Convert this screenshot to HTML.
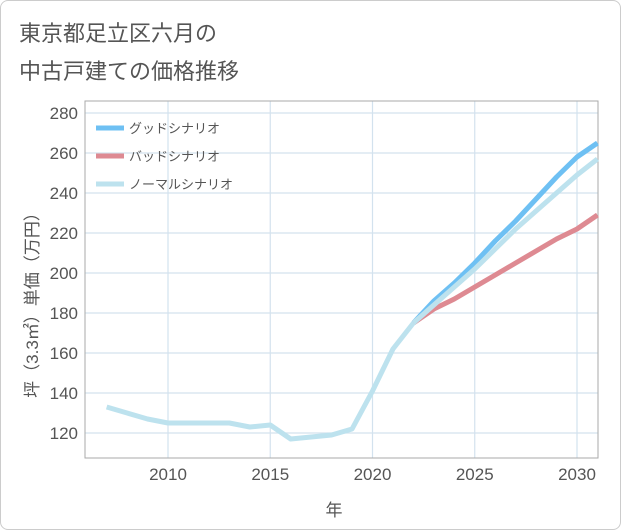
<!DOCTYPE html>
<html><head><meta charset="utf-8"><style>
body{margin:0;background:#fff;font-family:"Liberation Sans","Noto Sans CJK JP",sans-serif;}
#wrap{position:relative;width:619px;height:528px;border:1px solid #ccc;border-radius:8px;overflow:hidden;}
</style></head><body>
<div id="wrap">
<svg id="chart" width="621" height="530"></svg>
</div>
<script>
const years=[2007,2008,2009,2010,2011,2012,2013,2014,2015,2016,2017,2018,2019,2020,2021,2022];
const history=[133,130,127,125,125,125,125,123,124,117,118,119,122,141,162,175];
const fYears=[2022,2023,2024,2025,2026,2027,2028,2029,2030,2031];
const good=[175,186,195,205,216,226,237,248,258,265];
const bad=[175,182,187,193,199,205,211,217,222,229];
const normal=[175,184,193,202,212,222,231,240,249,257];
const xTicks=[2010,2015,2020,2025,2030];
const yTicks=[120,140,160,180,200,220,240,260,280];
const L=84,R=597,T=100,B=457;
const x=v=>167+(v-2010)*20.45;
const y=v=>432-(v-120)*2;
const NS="http://www.w3.org/2000/svg";
const svg=document.getElementById('chart');
function el(t,a,txt){const e=document.createElementNS(NS,t);for(const k in a)e.setAttribute(k,a[k]);if(txt!=null)e.textContent=txt;svg.appendChild(e);return e;}
let t=el('text',{x:18,y:40,'font-size':22,fill:'#555'},'東京都足立区六月の');


t=el('text',{x:18,y:78,'font-size':22,fill:'#555'},'中古戸建ての価格推移');


for(const v of yTicks){
 const g=el('line',{x1:L,x2:R,y1:y(v),y2:y(v),stroke:'#d3e2ee','stroke-width':1.2});
 
 
 const l=el('text',{x:L-7,y:y(v)+6,'font-size':17,fill:'#555','text-anchor':'end'},v);
 
 
}
for(const v of xTicks){
 const g=el('line',{x1:x(v),x2:x(v),y1:T,y2:B,stroke:'#d3e2ee','stroke-width':1.2});
 
 
 const l=el('text',{x:x(v),y:B+22,'font-size':17,fill:'#555','text-anchor':'middle'},v);
 
 
}
let ax=el('rect',{x:L,y:T,width:R-L,height:B-T,fill:'none',stroke:'#aaa','stroke-width':1});


function line(xs,vs,c,n){
 const p=el('polyline',{points:xs.map((v,i)=>x(v)+','+y(vs[i])).join(' '),fill:'none',stroke:c,'stroke-width':5,'stroke-linejoin':'round'});
 
 
}
line(fYears,good,'#6ec0f3','series-good');
line(fYears,bad,'#de8a92','series-bad');
line(fYears,normal,'#bde2ee','series-normal');
line(years,history,'#bde2ee','series-history');
const leg=[['グッドシナリオ','#6ec0f3'],['バッドシナリオ','#de8a92'],['ノーマルシナリオ','#bde2ee']];
leg.forEach((d,i)=>{
 const yy=127+i*28;
 const s=el('line',{x1:95,x2:123,y1:yy,y2:yy,stroke:d[1],'stroke-width':5});
 
 
 const l=el('text',{x:128,y:yy+5,'font-size':13,fill:'#555'},d[0]);
 
 
});
t=el('text',{x:333,y:515,'font-size':17,fill:'#555','text-anchor':'middle'},'年');


t=el('text',{x:0,y:0,'font-size':17,fill:'#555','text-anchor':'middle',transform:'translate(37,300) rotate(-90)'},'坪（3.3㎡）単価（万円）');


</script>
</body></html>
